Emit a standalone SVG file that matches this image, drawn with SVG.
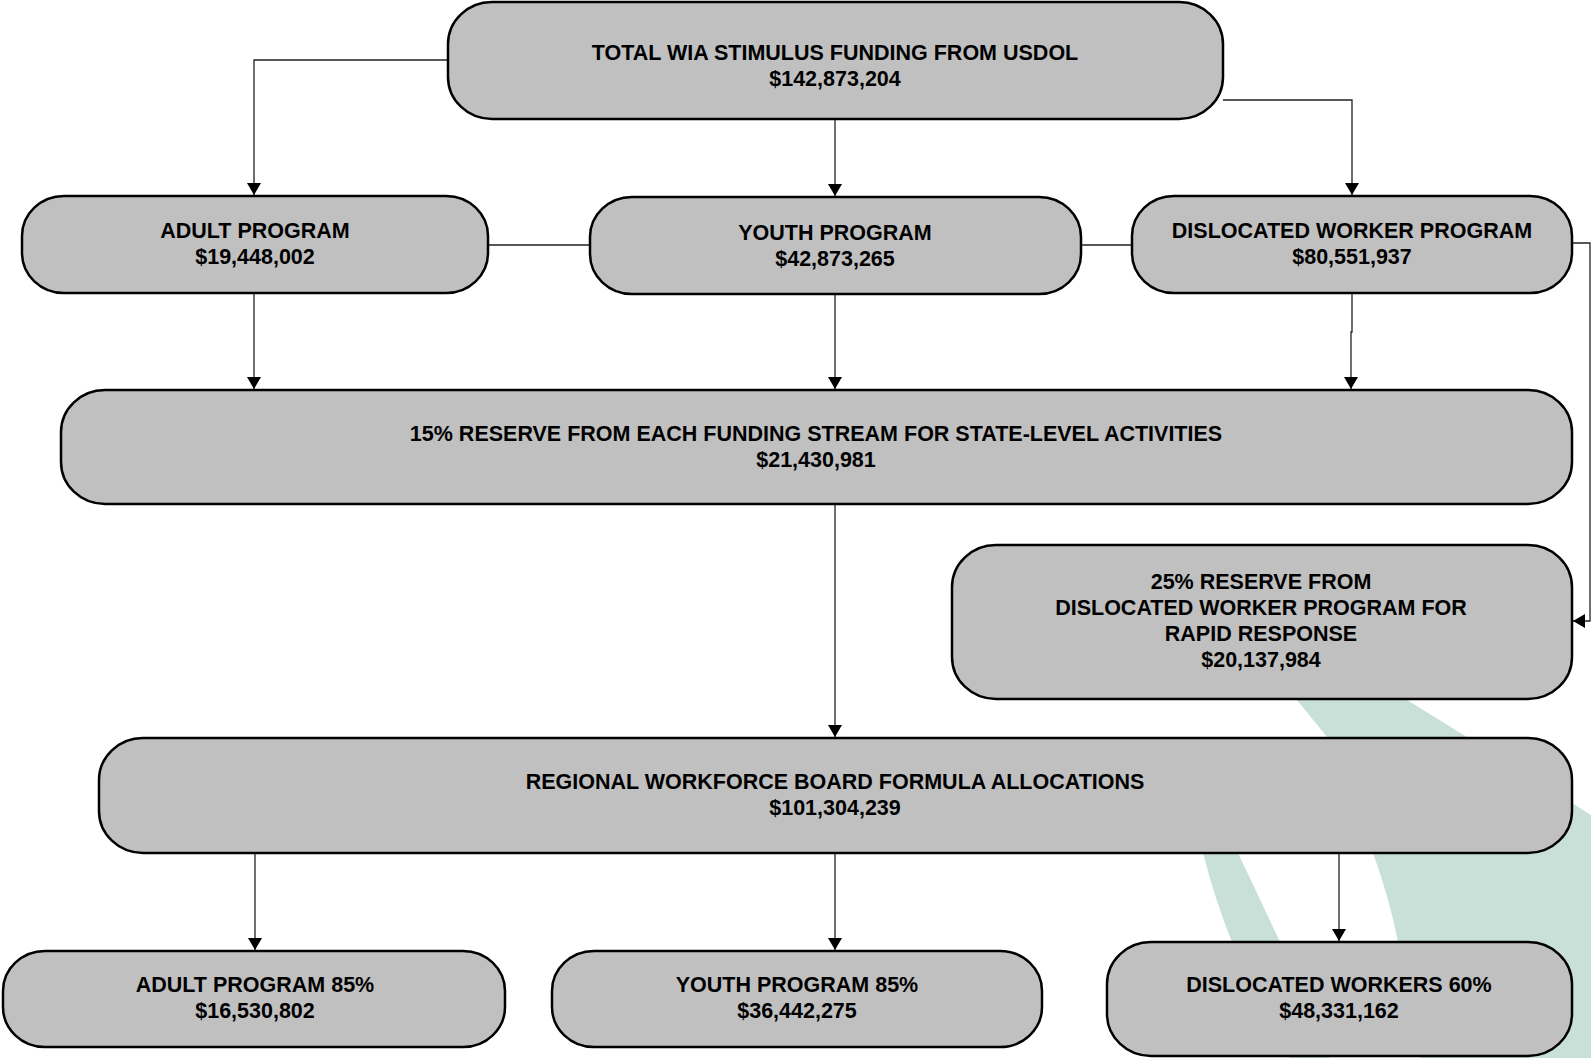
<svg xmlns="http://www.w3.org/2000/svg" width="1591" height="1058" viewBox="0 0 1591 1058">
<defs>
<style>
.box{fill:#c0c0c0;stroke:#000;stroke-width:2.5}
.t{font-family:"Liberation Sans",Arial,sans-serif;font-weight:bold;font-size:21.5px;fill:#000;text-anchor:middle}
.c{fill:none;stroke:#222;stroke-width:1.3}
.sw{fill:#c9e0d9}
</style>
<marker id="ah" viewBox="0 0 12 14" refX="12" refY="7" markerWidth="12" markerHeight="14" markerUnits="userSpaceOnUse" orient="auto">
<path d="M0,0 L12,7 L0,14 Z" fill="#000"/>
</marker>
</defs>
<rect width="1591" height="1058" fill="#fff"/>
<g id="swoosh">
<path class="sw" d="M1240,620 Q1280,660 1297,700 L1327,737 Q1355,800 1373,853 Q1390,900 1398,942 L1420,1058 L1591,1058 L1591,815 Q1520,770 1467,737 L1407,700 Q1330,650 1240,620 Z"/>
<path class="sw" d="M1185,760 Q1195,810 1203,853 Q1215,900 1232,942 L1290,1058 L1330,1058 Q1300,1000 1280,942 Q1258,895 1238,853 Q1215,800 1185,760 Z"/>
</g>
<g id="connectors">
<path class="c" d="M448,60 H254 V195" marker-end="url(#ah)"/>
<path class="c" d="M835,119 V196" marker-end="url(#ah)"/>
<path class="c" d="M1223,100 H1352 V195" marker-end="url(#ah)"/>
<path class="c" d="M488,245 H590"/>
<path class="c" d="M1081,245 H1132"/>
<path class="c" d="M1572,243 H1590 V621 H1573" marker-end="url(#ah)"/>
<path class="c" d="M254,293 V389" marker-end="url(#ah)"/>
<path class="c" d="M835,294 V389" marker-end="url(#ah)"/>
<path class="c" d="M1352,292 V332 H1351 V389" marker-end="url(#ah)"/>
<path class="c" d="M835,504 V737" marker-end="url(#ah)"/>
<path class="c" d="M255,853 V950" marker-end="url(#ah)"/>
<path class="c" d="M835,853 V950" marker-end="url(#ah)"/>
<path class="c" d="M1339,853 V941" marker-end="url(#ah)"/>
</g>
<g id="total">
<rect class="box" x="448" y="2" width="775" height="117" rx="44" ry="42"/>
<text class="t" x="835" y="59.5">TOTAL WIA STIMULUS FUNDING FROM USDOL</text>
<text class="t" x="835" y="85.5">$142,873,204</text>
</g>
<g id="adult">
<rect class="box" x="22" y="196" width="466" height="97" rx="42" ry="40"/>
<text class="t" x="255" y="238">ADULT PROGRAM</text>
<text class="t" x="255" y="264">$19,448,002</text>
</g>
<g id="youth">
<rect class="box" x="590" y="197" width="491" height="97" rx="42" ry="40"/>
<text class="t" x="835" y="239.5">YOUTH PROGRAM</text>
<text class="t" x="835" y="265.5">$42,873,265</text>
</g>
<g id="dislocated">
<rect class="box" x="1132" y="196" width="440" height="97" rx="42" ry="40"/>
<text class="t" x="1352" y="238">DISLOCATED WORKER PROGRAM</text>
<text class="t" x="1352" y="264">$80,551,937</text>
</g>
<g id="reserve15">
<rect class="box" x="61" y="390" width="1511" height="114" rx="44" ry="42"/>
<text class="t" x="816" y="441">15% RESERVE FROM EACH FUNDING STREAM FOR STATE-LEVEL ACTIVITIES</text>
<text class="t" x="816" y="467">$21,430,981</text>
</g>
<g id="reserve25">
<rect class="box" x="952" y="545" width="620" height="154" rx="44" ry="42"/>
<text class="t" x="1261" y="589">25% RESERVE FROM</text>
<text class="t" x="1261" y="615">DISLOCATED WORKER PROGRAM FOR</text>
<text class="t" x="1261" y="641">RAPID RESPONSE</text>
<text class="t" x="1261" y="667">$20,137,984</text>
</g>
<g id="regional">
<rect class="box" x="99" y="738" width="1473" height="115" rx="44" ry="42"/>
<text class="t" x="835" y="789">REGIONAL WORKFORCE BOARD FORMULA ALLOCATIONS</text>
<text class="t" x="835" y="815">$101,304,239</text>
</g>
<g id="adult85">
<rect class="box" x="3" y="951" width="502" height="96" rx="42" ry="40"/>
<text class="t" x="255" y="992">ADULT PROGRAM 85%</text>
<text class="t" x="255" y="1018">$16,530,802</text>
</g>
<g id="youth85">
<rect class="box" x="552" y="951" width="490" height="96" rx="42" ry="40"/>
<text class="t" x="797" y="992">YOUTH PROGRAM 85%</text>
<text class="t" x="797" y="1018">$36,442,275</text>
</g>
<g id="dw60">
<rect class="box" x="1107" y="942" width="465" height="114" rx="44" ry="42"/>
<text class="t" x="1339" y="992">DISLOCATED WORKERS 60%</text>
<text class="t" x="1339" y="1018">$48,331,162</text>
</g>
</svg>
